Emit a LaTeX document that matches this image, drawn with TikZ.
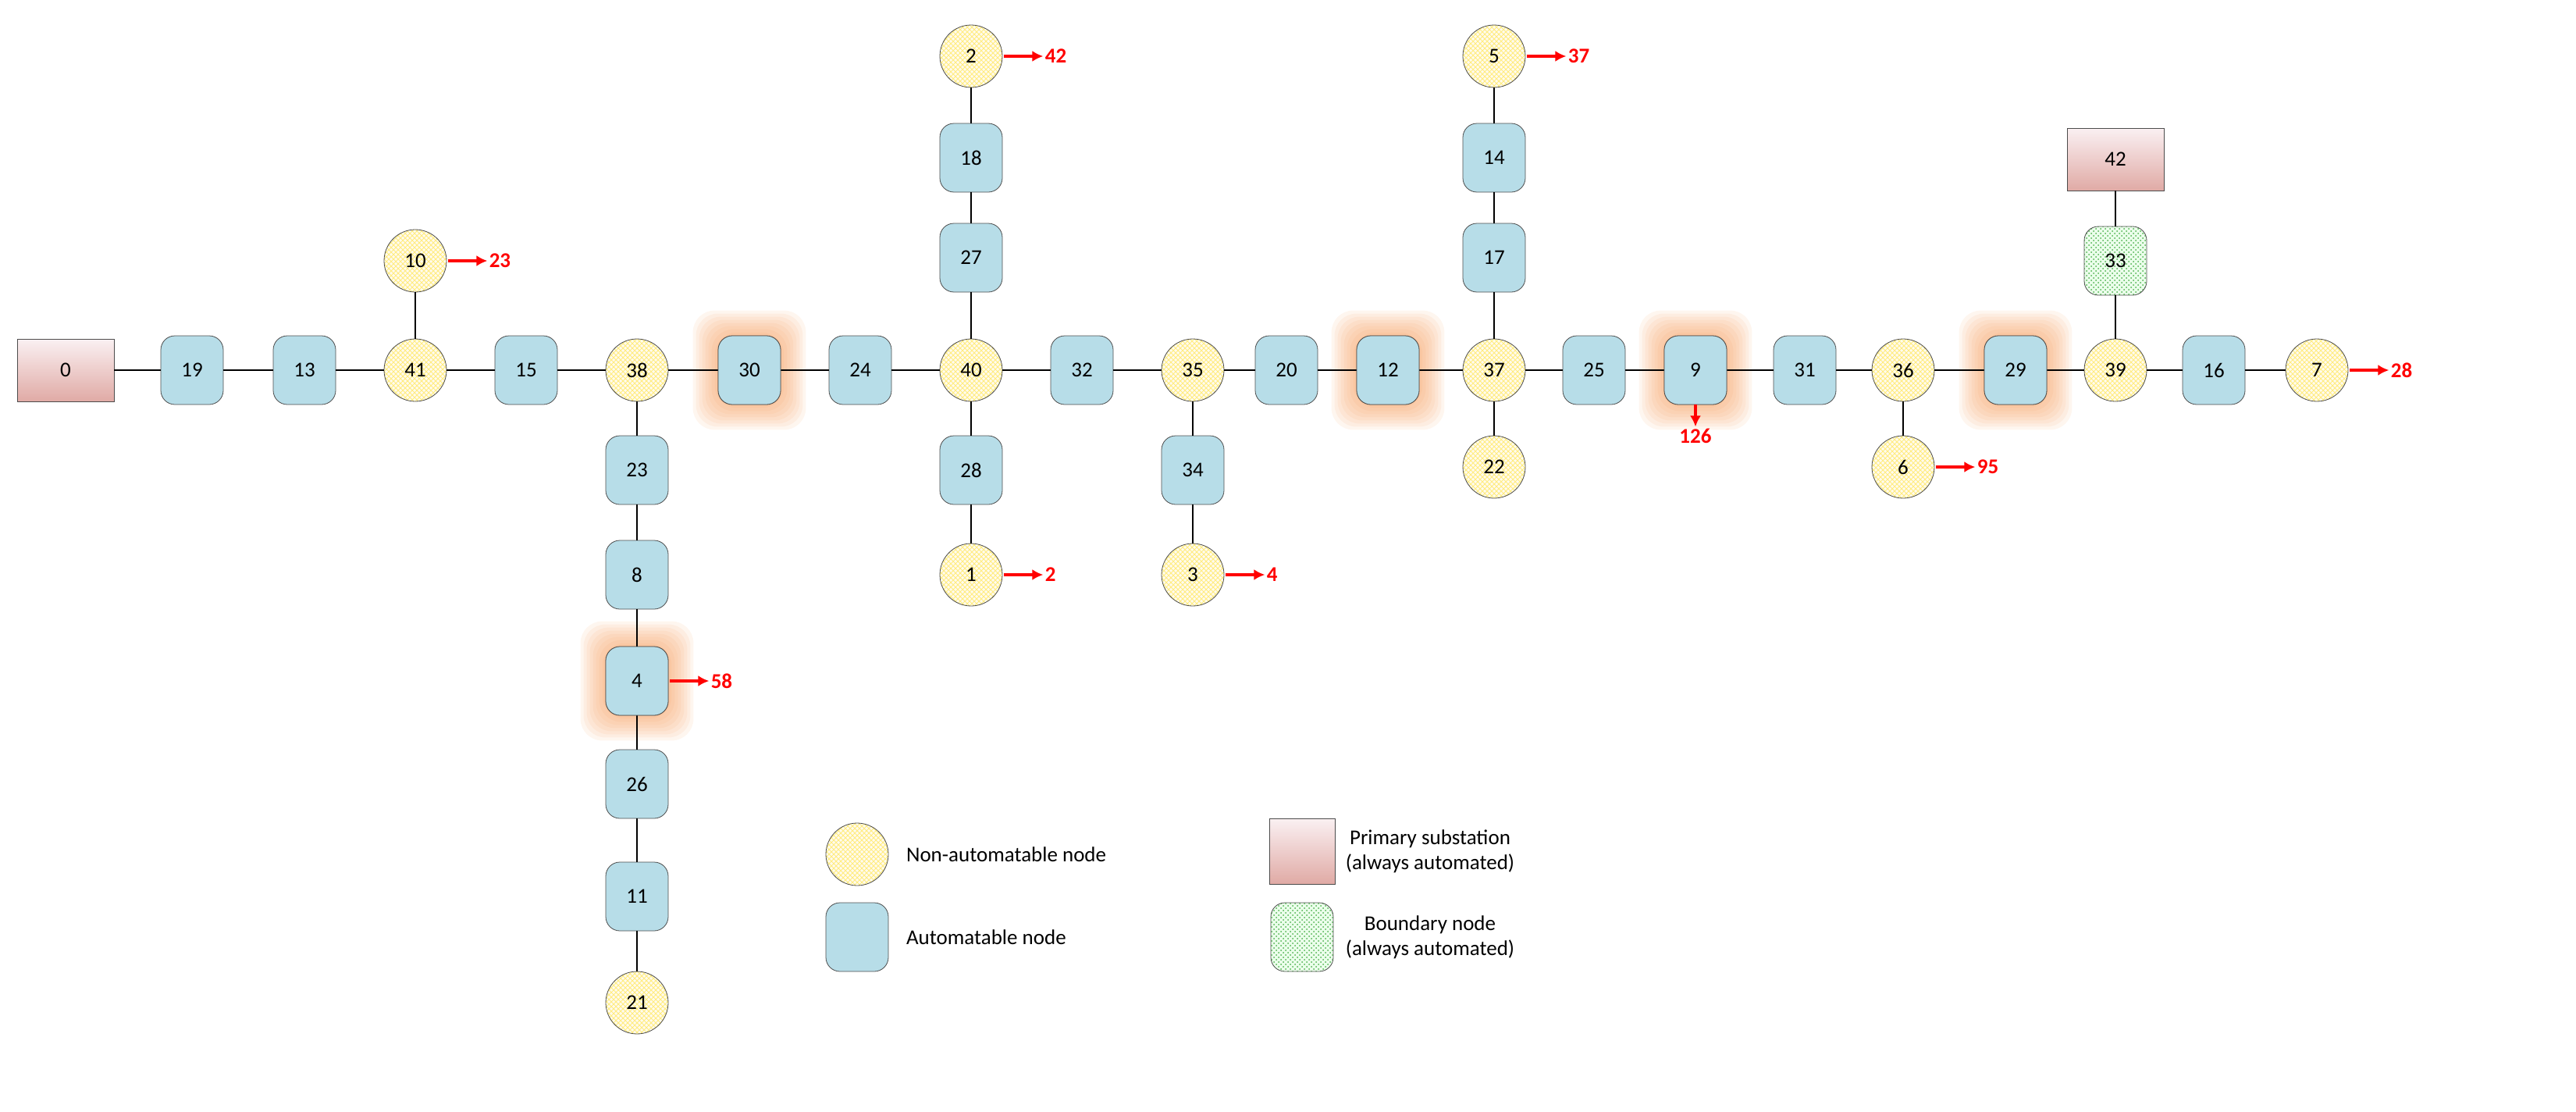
\documentclass[tikz,border=0pt]{standalone}
\usepackage{fontspec}
\setmainfont{Carlito}
\usetikzlibrary{patterns,arrows.meta}
\definecolor{autob}{RGB}{183,221,232}
\definecolor{cream}{RGB}{255,251,238}
\definecolor{psbot}{RGB}{224,170,165}
\definecolor{pstop}{RGB}{250,240,242}
\definecolor{glowc}{RGB}{245,150,80}
\begin{document}
\begin{tikzpicture}[x=1pt,y=-1pt,
 every node/.style={font=\fontsize{13.5}{16}\selectfont},
 na/.style={circle,draw=black!70,minimum size=40pt,inner sep=0pt,preaction={fill=cream},pattern=crosshatch,pattern color=orange!30!yellow!50},
 au/.style={rectangle,rounded corners=9pt,draw=black!70,fill=autob,minimum width=40pt,minimum height=44pt,inner sep=0pt},
 ps/.style={rectangle,draw=black!70,top color=pstop,bottom color=psbot,minimum width=62pt,minimum height=40pt},
 bd/.style={rectangle,rounded corners=9pt,draw=black!70,preaction={fill=green!8},pattern=crosshatch dots,pattern color=green!55!black!70,minimum width=40pt,minimum height=44pt,inner sep=0pt},
 ln/.style={line width=1.3pt},
 ar/.style={-{Latex[length=7pt,width=7pt]},red,line width=2pt},
 lb/.style={text=red,font=\fontsize{13.5}{16}\selectfont\bfseries,anchor=west,inner sep=1pt}]
\useasboundingbox (0,0) rectangle (1650,712);
\newcommand{\glow}[1]{\foreach \r in {16,14,...,2}{\fill[glowc,opacity=0.09,rounded corners=14pt] ([xshift=-\r pt,yshift=-\r pt]#1.south west) rectangle ([xshift=\r pt,yshift=\r pt]#1.north east);}}
% main row
\node[ps] (n0) at (42,237) {0};
\node[au] (n19) at (123,237) {19};
\node[au] (n13) at (195,237) {13};
\node[na] (n41) at (266,237) {41};
\node[au] (n15) at (337,237) {15};
\node[na] (n38) at (408,237) {38};
\node[au] (n30) at (480,237) {30};
\node[au] (n24) at (551,237) {24};
\node[na] (n40) at (622,237) {40};
\node[au] (n32) at (693,237) {32};
\node[na] (n35) at (764,237) {35};
\node[au] (n20) at (824,237) {20};
\node[au] (n12) at (889,237) {12};
\node[na] (n37) at (957,237) {37};
\node[au] (n25) at (1021,237) {25};
\node[au] (n9) at (1086,237) {9};
\node[au] (n31) at (1156,237) {31};
\node[na] (n36) at (1219,237) {36};
\node[au] (n29) at (1291,237) {29};
\node[na] (n39) at (1355,237) {39};
\node[au] (n16) at (1418,237) {16};
\node[na] (n7) at (1484,237) {7};
% branches
\node[na] (n10) at (266,167) {10};
\node[na] (n2) at (622,36) {2};
\node[au] (n18) at (622,101) {18};
\node[au] (n27) at (622,165) {27};
\node[au] (n28) at (622,301) {28};
\node[na] (n1) at (622,368) {1};
\node[au] (n34) at (764,301) {34};
\node[na] (n3) at (764,368) {3};
\node[na] (n5) at (957,36) {5};
\node[au] (n14) at (957,101) {14};
\node[au] (n17) at (957,165) {17};
\node[na] (n22) at (957,299) {22};
\node[na] (n6) at (1219,299) {6};
\node[ps] (n42) at (1355,102) {42};
\node[bd] (n33) at (1355,167) {33};
\node[au] (n23) at (408,301) {23};
\node[au] (n8) at (408,368) {8};
\node[au] (n4) at (408,436) {4};
\node[au] (n26) at (408,502) {26};
\node[au] (n11) at (408,574) {11};
\node[na] (n21) at (408,642) {21};
% glows
\foreach \n in {n30,n12,n9,n29,n4}{\glow{\n}}
% edges
\begin{scope}[ln]
\draw (n0)--(n19)--(n13)--(n41)--(n15)--(n38)--(n30)--(n24)--(n40)--(n32)--(n35)--(n20)--(n12)--(n37)--(n25)--(n9)--(n31)--(n36)--(n29)--(n39)--(n16)--(n7);
\draw (n41)--(n10);
\draw (n2)--(n18)--(n27)--(n40)--(n28)--(n1);
\draw (n35)--(n34)--(n3);
\draw (n5)--(n14)--(n17)--(n37)--(n22);
\draw (n36)--(n6);
\draw (n42)--(n33)--(n39);
\draw (n38)--(n23)--(n8)--(n4)--(n26)--(n11)--(n21);
\end{scope}
\foreach \n/\t in {n30/30,n12/12,n9/9,n29/29,n4/4}{\node[au] at (\n) {\t};}
% loads
\foreach \n/\v in {n2/42,n5/37,n10/23,n7/28,n1/2,n3/4,n6/95,n4/58}{
 \coordinate (e\n) at ([xshift=26pt]\n.east);
 \draw[ar] ([xshift=1pt]\n.east) -- (e\n);
 \node[lb] (l\n) at (e\n) {\v};}
\coordinate (e9) at ([yshift=-14pt]n9.south);
\draw[ar] (n9.south) -- (e9);
\node[lb,anchor=north] (l9) at (e9) {126};
% legend
\node[na] (L1) at (549,547) {};
\node[anchor=west] (T1) at (577,547) {Non-automatable node};
\node[au] (L2) at (549,600) {};
\node[anchor=west] (T2) at (577,600) {Automatable node};
\node[ps,minimum width=42pt,minimum height=42pt] (L3) at (834,545) {};
\node[align=center] (T3) at (916,545) {Primary substation\\(always automated)};
\node[bd] (L4) at (834,600) {};
\node[align=center] (T4) at (916,600) {Boundary node\\(always automated)};
\end{tikzpicture}
\end{document}
